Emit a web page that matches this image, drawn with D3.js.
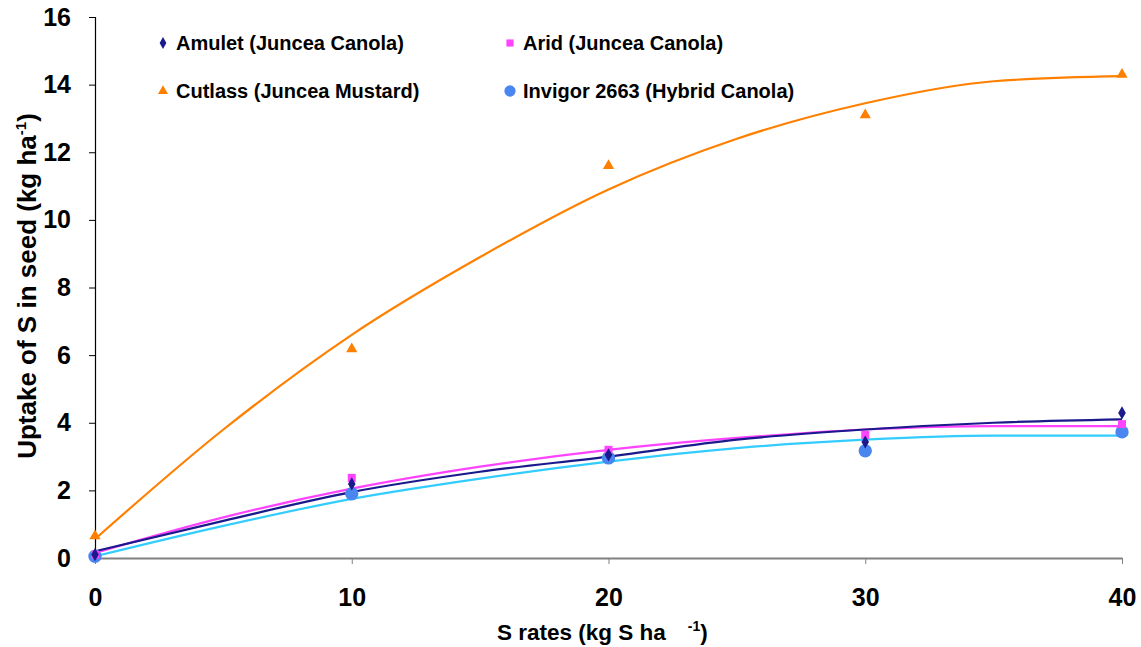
<!DOCTYPE html>
<html><head><meta charset="utf-8">
<script src="https://cdn.jsdelivr.net/npm/d3@7"></script>
<style>body{margin:0;background:#fff}svg{display:block;font-family:"Liberation Sans",Arial,sans-serif;font-weight:bold}</style>
</head><body><svg id="c" width="1141" height="647"></svg>
<script>
// observed points
const rates = [0, 10, 20, 30, 40];
const amulet = [0.1, 2.19, 3.05, 3.43, 4.29];
const arid = [0.1, 2.37, 3.2, 3.64, 3.96];
const cutlass = [0.65, 6.18, 11.6, 13.1, 14.3];
const invigor = [0.05, 1.9, 2.96, 3.17, 3.73];
// fitted curves
const fitX = [0, 5, 10, 15, 20, 25, 30, 35, 40];
const amuletFit = [0.2, 1.1, 1.95, 2.55, 3.0, 3.5, 3.8, 4.0, 4.1];
const aridFit = [0.15, 1.2, 2.05, 2.7, 3.2, 3.55, 3.8, 3.9, 3.9];
const cutlassFit = [0.56, 3.8, 6.6, 8.9, 10.9, 12.4, 13.45, 14.1, 14.25];
const invigorFit = [0.05, 0.95, 1.75, 2.35, 2.85, 3.25, 3.5, 3.62, 3.62];
const xTicks = [0, 10, 20, 30, 40];
const yTicks = [0, 2, 4, 6, 8, 10, 12, 14, 16];

const svg = d3.select("#c");
const x = d3.scaleLinear().domain([0, 40]).range([95, 1122]);
const y = d3.scaleLinear().domain([0, 16]).range([558, 17]);

const series = [
  {name:"Amulet (Juncea Canola)", pts:amulet, fit:amuletFit, line:"#1a1a8c", mark:"#1a1a8c", sym:d3.symbolDiamond, size:50},
  {name:"Arid (Juncea Canola)", pts:arid, fit:aridFit, line:"#ff44ff", mark:"#ff44ff", sym:d3.symbolSquare, size:64},
  {name:"Cutlass (Juncea Mustard)", pts:cutlass, fit:cutlassFit, line:"#ff8000", mark:"#ff8000", sym:d3.symbolTriangle, size:55},
  {name:"Invigor 2663 (Hybrid Canola)", pts:invigor, fit:invigorFit, line:"#33ccff", mark:"#4a86f0", sym:d3.symbolCircle, size:140}
];
const lineGen = d3.line().x((d,i)=>x(fitX[i])).y(d=>y(d)).curve(d3.curveMonotoneX);
const drawOrder = [3,1,0,2];
drawOrder.forEach(k=>{
  const s = series[k];
  svg.append("path").attr("d", lineGen(s.fit)).attr("fill","none").attr("stroke",s.line).attr("stroke-width",2.2);
});
const font = "Liberation Sans, Arial, sans-serif";
const yAxis = svg.append("g").attr("transform","translate(95,0)")
  .call(d3.axisLeft(y).tickValues(yTicks).tickSize(6).tickPadding(18).tickFormat(d3.format("d")));
yAxis.select(".domain").attr("stroke","#000").attr("stroke-width",1.2);
yAxis.selectAll("line").attr("stroke","#000");
yAxis.selectAll("text").attr("font-size",25).attr("fill","#000").attr("font-weight","bold").attr("font-family",font);
const xAxis = svg.append("g").attr("transform","translate(0,558)")
  .call(d3.axisBottom(x).tickValues(xTicks).tickSize(6).tickSizeOuter(0).tickPadding(24).tickFormat(d3.format("d")));
xAxis.select(".domain").attr("stroke","#808080").attr("stroke-width",2);
xAxis.selectAll("line").attr("stroke","#808080");
xAxis.selectAll("text").attr("font-size",25).attr("fill","#000").attr("font-weight","bold").attr("font-family",font);

drawOrder.forEach(k=>{
  const s = series[k];
  svg.append("g").selectAll("path").data(s.pts).join("path")
    .attr("transform",(d,i)=>`translate(${x(rates[i])},${y(d)})`)
    .attr("d", d3.symbol().type(s.sym).size(s.size)).attr("fill",s.mark);
});

const yt = svg.append("text").attr("transform","translate(36,286) rotate(-90)").attr("text-anchor","middle").attr("font-size",26);
yt.append("tspan").text("Uptake of S in seed (kg ha");
yt.append("tspan").attr("font-size",15).attr("dy",-10).text("-1");
yt.append("tspan").attr("dy",10).text(")");
const xt = svg.append("text").attr("x",497).attr("y",640).attr("font-size",22.5);
xt.append("tspan").text("S rates (kg S ha");
xt.append("tspan").attr("font-size",14).attr("dy",-9).attr("dx",22).text("-1");
xt.append("tspan").attr("dy",9).text(")");

const legPos = [[163,43],[510,43],[163,91],[510,91]];
series.forEach((s,i)=>{
  const [lx,ly] = legPos[i];
  svg.append("path").attr("transform",`translate(${lx},${ly})`).attr("d",d3.symbol().type(s.sym).size(i==3?100:s.size*0.8)).attr("fill",s.mark);
  svg.append("text").attr("x",lx+13).attr("y",ly+7).attr("font-size",20).text(s.name);
});
</script></body></html>
